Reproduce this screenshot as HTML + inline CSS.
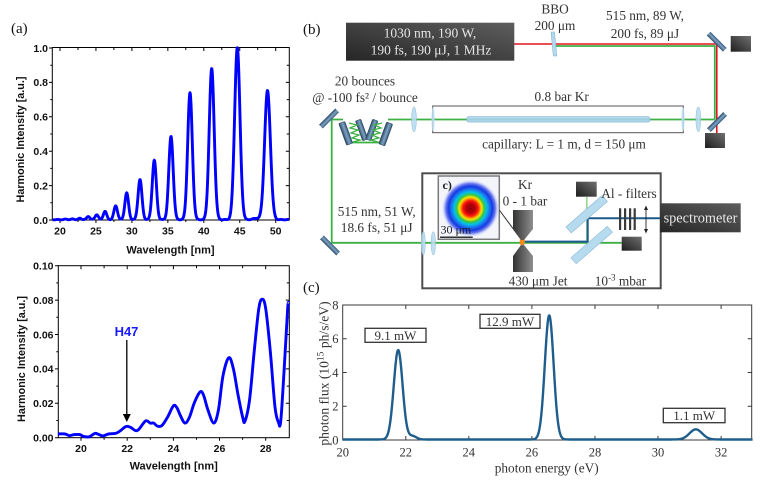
<!DOCTYPE html>
<html><head><meta charset="utf-8"><style>
html,body{margin:0;padding:0;background:#fff;width:760px;height:492px;overflow:hidden}
svg{display:block}
.a{font-family:"Liberation Sans",Arial,sans-serif;font-weight:bold;fill:#111}
.s{font-family:"Liberation Serif","DejaVu Serif",serif;fill:#333}
</style></head><body>
<svg width="760" height="492" viewBox="0 0 760 492" xmlns="http://www.w3.org/2000/svg">
<defs>
<linearGradient id="dbox" x1="0" y1="1" x2="1" y2="0"><stop offset="0" stop-color="#262626"/><stop offset="1" stop-color="#5e5e5e"/></linearGradient>
<linearGradient id="dump" x1="0" y1="1" x2="1" y2="0"><stop offset="0" stop-color="#1e1e1e"/><stop offset="1" stop-color="#707070"/></linearGradient>
<linearGradient id="mir" x1="0" y1="0" x2="1" y2="0"><stop offset="0" stop-color="#2c4a68"/><stop offset="0.55" stop-color="#7fa4c2"/><stop offset="1" stop-color="#34577a"/></linearGradient>
<linearGradient id="noz" x1="0" y1="0" x2="1" y2="0"><stop offset="0" stop-color="#333"/><stop offset="1" stop-color="#8e8e8e"/></linearGradient>
<linearGradient id="glow" x1="0" y1="0" x2="0" y2="1"><stop offset="0" stop-color="#fbe3c8" stop-opacity="0.6"/><stop offset="1" stop-color="#f39a30"/></linearGradient>
<radialGradient id="spot" cx="0.5" cy="0.5" r="0.5">
<stop offset="0" stop-color="#8a0010"/><stop offset="0.16" stop-color="#b80008"/><stop offset="0.27" stop-color="#ff1a10"/><stop offset="0.33" stop-color="#ff8a00"/><stop offset="0.39" stop-color="#f0ea00"/><stop offset="0.47" stop-color="#3cc444"/><stop offset="0.56" stop-color="#00c4e4"/><stop offset="0.64" stop-color="#1a82f0"/><stop offset="0.76" stop-color="#1838e0"/><stop offset="0.86" stop-color="#6e7ef0"/><stop offset="1" stop-color="#eef0fa" stop-opacity="0"/>
</radialGradient>
</defs>

<!-- ================= (a) ================= -->
<text x="11" y="33" class="s" style="fill:#111" font-size="15">(a)</text>

<!-- top plot -->
<rect x="52.3" y="47.5" width="237" height="172.5" fill="none" stroke="#000" stroke-width="1"/>
<path d="M60,220v3M95.95,220v3M131.9,220v3M167.85,220v3M203.8,220v3M239.75,220v3M275.7,220v3M78,220v2M113.9,220v2M149.9,220v2M185.8,220v2M221.8,220v2M257.7,220v2
M60,47.5v3.5M95.95,47.5v3.5M131.9,47.5v3.5M167.85,47.5v3.5M203.8,47.5v3.5M239.75,47.5v3.5M275.7,47.5v3.5M78,47.5v2.5M113.9,47.5v2.5M149.9,47.5v2.5M185.8,47.5v2.5M221.8,47.5v2.5M257.7,47.5v2.5
M49,220h3.3M49,185.6h3.3M49,151.2h3.3M49,116.8h3.3M49,82.4h3.3M49,48h3.3M50.3,202.8h2M50.3,168.4h2M50.3,134h2M50.3,99.6h2M50.3,65.2h2
M289.3,185.6h-3.5M289.3,151.2h-3.5M289.3,116.8h-3.5M289.3,82.4h-3.5M289.3,202.8h-2.5M289.3,168.4h-2.5M289.3,134h-2.5M289.3,99.6h-2.5M289.3,65.2h-2.5" stroke="#000" stroke-width="1" fill="none"/>
<g class="a" font-size="10.5" text-anchor="end">
<text x="48" y="223.8">0.0</text><text x="48" y="189.4">0.2</text><text x="48" y="155">0.4</text><text x="48" y="120.6">0.6</text><text x="48" y="86.2">0.8</text><text x="48" y="51.8">1.0</text>
</g>
<g class="a" font-size="10.5" text-anchor="middle">
<text x="60" y="234.5">20</text><text x="95.95" y="234.5">25</text><text x="131.9" y="234.5">30</text><text x="167.85" y="234.5">35</text><text x="203.8" y="234.5">40</text><text x="239.75" y="234.5">45</text><text x="275.7" y="234.5">50</text>
<text x="170.5" y="253.3" font-size="11">Wavelength [nm]</text>
<text transform="translate(24,139.5) rotate(-90)" font-size="10.8">Harmonic Intensity [a.u.]</text>
</g>
<path id="c1" d="" fill="none" stroke="#0000ff" stroke-width="2.9" stroke-linejoin="round"/>

<!-- bottom plot -->
<rect x="58.3" y="265.7" width="231" height="172" fill="none" stroke="#000" stroke-width="1"/>
<path d="M81,437.7v3M127.2,437.7v3M173.4,437.7v3M219.5,437.7v3M265.7,437.7v3M104.1,437.7v2M150.3,437.7v2M196.5,437.7v2M242.6,437.7v2
M81,265.7v3.5M127.2,265.7v3.5M173.4,265.7v3.5M219.5,265.7v3.5M265.7,265.7v3.5M104.1,265.7v2.5M150.3,265.7v2.5M196.5,265.7v2.5M242.6,265.7v2.5
M55,437.7h3.3M55,403.3h3.3M55,368.9h3.3M55,334.5h3.3M55,300.1h3.3M55,265.7h3.3M56.3,420.5h2M56.3,386.1h2M56.3,351.7h2M56.3,317.3h2M56.3,282.9h2
M289.3,403.3h-3.5M289.3,368.9h-3.5M289.3,334.5h-3.5M289.3,300.1h-3.5M289.3,420.5h-2.5M289.3,386.1h-2.5M289.3,351.7h-2.5M289.3,317.3h-2.5M289.3,282.9h-2.5" stroke="#000" stroke-width="1" fill="none"/>
<g class="a" font-size="10.5" text-anchor="end">
<text x="53.5" y="441.5">0.00</text><text x="53.5" y="407.1">0.02</text><text x="53.5" y="372.7">0.04</text><text x="53.5" y="338.3">0.06</text><text x="53.5" y="303.9">0.08</text><text x="53.5" y="269.5">0.10</text>
</g>
<g class="a" font-size="10.5" text-anchor="middle">
<text x="81" y="452">20</text><text x="127.2" y="452">22</text><text x="173.4" y="452">24</text><text x="219.5" y="452">26</text><text x="265.7" y="452">28</text>
<text x="173.7" y="469.7" font-size="11">Wavelength [nm]</text>
<text transform="translate(25,359) rotate(-90)" font-size="10.8">Harmonic Intensity [a.u.]</text>
</g>
<text x="126.5" y="335.8" class="a" style="fill:#1a1aff" font-size="13" text-anchor="middle">H47</text>
<path d="M126.8,340V415" stroke="#000" stroke-width="1.3"/>
<path d="M122.8,414L130.8,414L126.8,422Z" fill="#000"/>
<path id="c2" d="" fill="none" stroke="#0000ff" stroke-width="2.9" stroke-linejoin="round"/>

<!-- ================= (b) ================= -->
<text x="303" y="34" class="s" style="fill:#111" font-size="15">(b)</text>

<!-- beams -->
<path d="M553,46H714.8V119.5" fill="none" stroke="#3cb043" stroke-width="1.8"/>
<path d="M514,44H716.8V133" fill="none" stroke="#e3141e" stroke-width="1.6"/>
<path d="M331.7,119.5H343M388,119.5H714.8" fill="none" stroke="#3cb043" stroke-width="1.8"/>
<path d="M331.7,119.5V242.8H621.7" fill="none" stroke="#3cb043" stroke-width="1.8"/>
<path d="M352,142.5H381" stroke="#3cb043" stroke-width="1.8"/>
<path d="M586.8,197V242" stroke="#92d18c" stroke-width="1.5"/>
<path d="M522,241.6H587.7V218.3H661" fill="none" stroke="#1f5a8e" stroke-width="2"/>

<!-- laser box -->
<rect x="346" y="22.7" width="168.3" height="38" fill="url(#dbox)"/>
<g class="s" style="fill:#e6e6e6" font-size="13.5" text-anchor="middle">
<text x="430" y="37.7">1030 nm, 190 W,</text>
<text x="431" y="54.7">190 fs, 190 μJ, 1 MHz</text>
</g>
<!-- BBO -->
<path d="M551,32L554.5,32L556.8,56L553.3,56Z" fill="#b4d8ec" stroke="#86b8d6" stroke-width="0.6"/>

<!-- mirrors -->
<rect x="-2.6" y="-11.5" width="5.2" height="23" fill="url(#mir)" transform="translate(716.7,41.7) rotate(-45)"/>
<rect x="-2.6" y="-11.5" width="5.2" height="23" fill="url(#mir)" transform="translate(717,122) rotate(45)"/>
<rect x="-2.6" y="-11.5" width="5.2" height="23" fill="url(#mir)" transform="translate(329,118.5) rotate(45)"/>
<rect x="-2.6" y="-11.5" width="5.2" height="23" fill="url(#mir)" transform="translate(330,245.5) rotate(-45)"/>
<!-- dumps -->
<rect x="730.7" y="36" width="20.3" height="15.7" fill="url(#dump)"/>
<rect x="705" y="133" width="20" height="15" fill="url(#dump)"/>

<!-- chirped mirrors -->
<rect x="-3.2" y="-11.5" width="6.4" height="23" rx="1" fill="url(#mir)" stroke="#24405c" stroke-width="0.6" transform="translate(345.7,133.3) rotate(-20)"/>
<rect x="-2.8" y="-10.5" width="5.6" height="21" rx="1" fill="url(#mir)" stroke="#24405c" stroke-width="0.6" transform="translate(361.7,130) rotate(-20)"/>
<rect x="-2.8" y="-10.5" width="5.6" height="21" rx="1" fill="url(#mir)" stroke="#24405c" stroke-width="0.6" transform="translate(371.7,130) rotate(20)"/>
<rect x="-3.2" y="-11.5" width="6.4" height="23" rx="1" fill="url(#mir)" stroke="#24405c" stroke-width="0.6" transform="translate(385.7,134) rotate(20)"/>
<polyline points="349,123 357,125 350,128 358,130 351,133 359,135 352,138 360,140 353,142" fill="none" stroke="#3cb043" stroke-width="1.3"/>
<polyline points="382,123 374,125 381,128 373,130 380,133 372,135 379,138 371,140 378,142" fill="none" stroke="#3cb043" stroke-width="1.3"/>

<!-- capillary -->
<rect x="432.7" y="106" width="250.6" height="26.7" fill="none" stroke="#555" stroke-width="1"/>
<rect x="466.7" y="116.7" width="183.3" height="5.4" rx="2" fill="#a9d3ea" fill-opacity="0.9" stroke="#7db4d4" stroke-width="0.6"/>
<ellipse cx="414" cy="119.3" rx="2.4" ry="12.5" fill="#b9dcee" fill-opacity="0.9" stroke="#8cbcd8" stroke-width="0.5"/>
<ellipse cx="698.3" cy="119.3" rx="2.4" ry="12.5" fill="#b9dcee" fill-opacity="0.9" stroke="#8cbcd8" stroke-width="0.5"/>
<ellipse cx="433" cy="119.3" rx="1.5" ry="12" fill="#b9dcee" fill-opacity="0.9"/>
<ellipse cx="683" cy="119.3" rx="1.5" ry="12" fill="#b9dcee" fill-opacity="0.9"/>

<g class="s" font-size="13.3" text-anchor="middle">
<text x="555" y="13.5">BBO</text>
<text x="555" y="30">200 μm</text>
<text x="645" y="20">515 nm, 89 W,</text>
<text x="645" y="38">200 fs, 89 μJ</text>
<text x="365" y="85.5">20 bounces</text>
<text x="365" y="102">@ -100 fs² / bounce</text>
<text x="561.7" y="101">0.8 bar Kr</text>
<text x="564" y="148.5">capillary: L = 1 m, d = 150 μm</text>
<text x="376.7" y="216">515 nm, 51 W,</text>
<text x="376.7" y="232">18.6 fs, 51 μJ</text>
</g>

<!-- chamber -->
<rect x="422.3" y="173.3" width="238.4" height="115" fill="none" stroke="#4e4e4e" stroke-width="2"/>
<ellipse cx="423.3" cy="243.3" rx="2" ry="11.7" fill="#b9dcee" fill-opacity="0.9" stroke="#8cbcd8" stroke-width="0.5"/>
<ellipse cx="433.3" cy="243.3" rx="2.2" ry="11.7" fill="#b9dcee" fill-opacity="0.9" stroke="#8cbcd8" stroke-width="0.5"/>
<!-- inset -->
<rect x="438.3" y="176" width="61" height="63.3" fill="#f3f5fa" stroke="#7a7a7a" stroke-width="1.5"/>
<circle cx="470.5" cy="208.3" r="29" fill="url(#spot)"/>
<text x="442.5" y="189" class="s" style="fill:#222;font-weight:bold" font-size="12">c)</text>
<text x="440.5" y="233.5" class="s" style="fill:#222" font-size="12">30 μm</text>
<path d="M440,237.3H472.7" stroke="#333" stroke-width="1.5"/>
<path d="M499.3,210L521.5,240" stroke="#333" stroke-width="1"/>
<!-- nozzles -->
<path d="M518,231L527,231L523.5,246L521,246Z" fill="url(#glow)"/>
<ellipse cx="522.3" cy="242" rx="2.6" ry="4" fill="#f08a1c"/>
<path d="M513,210H533V229L524,240H521L513,229Z" fill="url(#noz)"/>
<path d="M521,245H524L533,256V272H513V256Z" fill="url(#noz)"/>
<!-- plates -->
<rect x="-24" y="-4" width="48" height="8" fill="#b6daee" stroke="#8ab8d6" stroke-width="0.6" transform="translate(586.7,214.2) rotate(-41)"/>
<rect x="-24" y="-4" width="48" height="8" fill="#b6daee" stroke="#8ab8d6" stroke-width="0.6" transform="translate(591.7,245) rotate(-41)"/>
<!-- dumps in chamber -->
<rect x="576" y="181.7" width="20.7" height="15" fill="url(#dump)"/>
<rect x="621.7" y="236.7" width="20" height="14" fill="url(#dump)"/>
<!-- filters -->
<g fill="#3a3a3a"><rect x="619" y="208.3" width="2.2" height="21.7"/><rect x="624" y="208.3" width="2.2" height="21.7"/><rect x="629" y="208.3" width="2.2" height="21.7"/><rect x="633.6" y="208.3" width="2.2" height="21.7"/></g>
<path d="M646,208V231" stroke="#222" stroke-width="0.9"/>
<path d="M644,210L646,205.5L648,210ZM644,229L646,233.5L648,229Z" fill="#222"/>
<!-- spectrometer -->
<rect x="660" y="203.3" width="80.7" height="29" fill="url(#dbox)"/>
<text x="700.5" y="222.3" class="s" style="fill:#e6e6e6" font-size="14.3" text-anchor="middle">spectrometer</text>
<g class="s" font-size="13.3" text-anchor="middle">
<text x="525" y="189">Kr</text>
<text x="525" y="205.5">0 - 1 bar</text>
<text x="629" y="197.8">Al - filters</text>
<text x="538" y="285.5">430 μm Jet</text>
<text x="620.5" y="285.5">10<tspan font-size="9" dy="-5">-3</tspan><tspan dy="5"> mbar</tspan></text>
</g>

<!-- ================= (c) ================= -->
<text x="303" y="292" class="s" style="fill:#111" font-size="15">(c)</text>
<rect x="342.7" y="305" width="409" height="135" fill="none" stroke="#3a3a3a" stroke-width="1"/>
<path d="M405.8,440v-4M468.8,440v-4M531.9,440v-4M595,440v-4M658,440v-4M721.1,440v-4
M405.8,305v4M468.8,305v4M531.9,305v4M595,305v4M658,305v4M721.1,305v4
M342.7,406.25h4M342.7,372.5h4M342.7,338.75h4
M751.7,406.25h-4M751.7,372.5h-4M751.7,338.75h-4" stroke="#3a3a3a" stroke-width="1"/>
<g class="s" font-size="12.5" text-anchor="middle">
<text x="342.7" y="456.5">20</text><text x="405.8" y="456.5">22</text><text x="468.8" y="456.5">24</text><text x="531.9" y="456.5">26</text><text x="595" y="456.5">28</text><text x="658" y="456.5">30</text><text x="721.1" y="456.5">32</text>
<text x="546.7" y="472.5" font-size="13.3">photon energy (eV)</text>
</g>
<g class="s" font-size="12.5" text-anchor="end">
<text x="338.5" y="444.3">0</text><text x="338.5" y="410.5">2</text><text x="338.5" y="376.8">4</text><text x="338.5" y="343">6</text><text x="338.5" y="309.3">8</text>
</g>
<text transform="translate(328.5,373.5) rotate(-90)" class="s" font-size="13.6" text-anchor="middle">photon flux (10<tspan font-size="9.5" dy="-5">15</tspan><tspan dy="5"> ph/s/eV)</tspan></text>
<path id="c3" d="" fill="none" stroke="#1f5e8c" stroke-width="2.4" stroke-linejoin="round"/>
<g class="s" font-size="13" text-anchor="middle">
<rect x="365" y="328.3" width="61" height="14" fill="#fff" stroke="#333" stroke-width="1.3"/>
<text x="395.5" y="339.8">9.1 mW</text>
<rect x="480" y="314.3" width="60" height="14" fill="#fff" stroke="#333" stroke-width="1.3"/>
<text x="510" y="325.8">12.9 mW</text>
<rect x="663.3" y="408.3" width="61.7" height="14.4" fill="#fff" stroke="#333" stroke-width="1.3"/>
<text x="694.2" y="420">1.1 mW</text>
</g>
</svg>
<script>
function G(x,m,s){var t=(x-m)/s;return Math.exp(-0.5*t*t);}
(function(){
var P=[[66,0.003],[73,0.004],[80,0.008],[88.3,0.019],[96.7,0.029],[105,0.048],[115.7,0.081],[126.7,0.155],[140,0.233],[154.3,0.345],[171,0.484],[190,0.737],[211.7,0.878],[237.3,1.0],[256,0.008],[267.5,0.75]];
var d="";
for(var x=52.6;x<=289.1;x+=0.3){var I=0.002+0.0012*Math.sin(x*0.9);
for(var i=0;i<P.length;i++){var s=1.85+(P[i][0]-126.7)*0.0075;I+=P[i][1]*G(x,P[i][0],s);}
var y=220-I*172;d+=(d?"L":"M")+x.toFixed(2)+","+y.toFixed(2);}
document.getElementById("c1").setAttribute("d",d);
})();
(function(){
var D=[[19.0,0.0022],[19.3,0.0022],[19.5,0.0012],[19.7,0.0018],[19.95,0.0018],[20.1,0.0008],[20.35,0.0005],[20.6,0.0025],[20.75,0.002],[20.95,0.001],[21.2,0.0022],[21.5,0.0025],[21.7,0.004],[21.95,0.0065],[22.15,0.006],[22.35,0.0042],[22.5,0.0048],[22.8,0.0098],[23.0,0.0085],[23.15,0.0085],[23.3,0.0068],[23.5,0.007],[23.75,0.012],[24.0,0.0185],[24.15,0.0175],[24.3,0.013],[24.5,0.0085],[24.7,0.012],[24.9,0.02],[25.15,0.0265],[25.3,0.025],[25.5,0.016],[25.75,0.0085],[25.95,0.016],[26.15,0.036],[26.4,0.0465],[26.6,0.040],[26.8,0.025],[27.0,0.012],[27.1,0.0095],[27.3,0.022],[27.5,0.05],[27.7,0.075],[27.85,0.0805],[28.0,0.075],[28.2,0.05],[28.4,0.018],[28.55,0.009],[28.65,0.0095],[28.8,0.04],[28.95,0.075],[29.0,0.078]];
var p=D.map(function(q){return [81+(q[0]-20)*23.09,437.7-q[1]*1720];});
var d="M"+p[0][0].toFixed(2)+","+p[0][1].toFixed(2);
for(var i=0;i<p.length-1;i++){var p0=p[Math.max(0,i-1)],p1=p[i],p2=p[i+1],p3=p[Math.min(p.length-1,i+2)];
var c1x=p1[0]+(p2[0]-p0[0])/6,c1y=p1[1]+(p2[1]-p0[1])/6,c2x=p2[0]-(p3[0]-p1[0])/6,c2y=p2[1]-(p3[1]-p1[1])/6;
d+="C"+c1x.toFixed(2)+","+c1y.toFixed(2)+" "+c2x.toFixed(2)+","+c2y.toFixed(2)+" "+p2[0].toFixed(2)+","+p2[1].toFixed(2);}
document.getElementById("c2").setAttribute("d",d);
})();
(function(){
var d="";
for(var E=20;E<=33.001;E+=0.01){var F=0.03+5.3*G(E,21.76,0.14)+0.2*G(E,22.22,0.12)+7.35*G(E,26.55,0.14)+0.6*G(E,31.2,0.2);
var x=342.7+(E-20)*31.53,y=440-F*16.875;d+=(d?"L":"M")+x.toFixed(2)+","+y.toFixed(2);}
document.getElementById("c3").setAttribute("d",d);
})();
</script>
</body></html>
